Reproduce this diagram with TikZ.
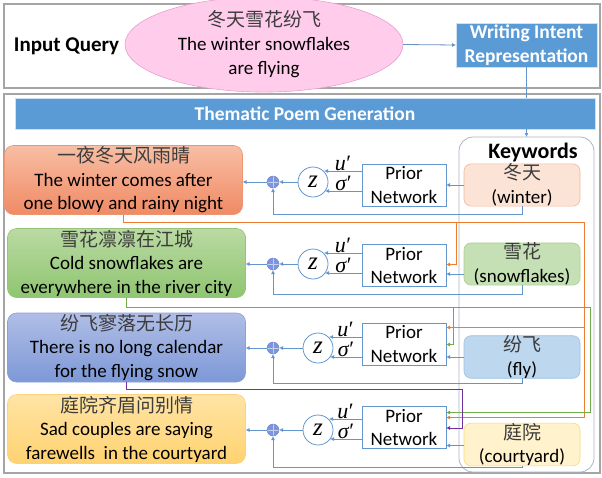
\documentclass[tikz,border=0pt]{standalone}
\usepackage{fontspec}
\setmainfont{Carlito}
\newfontfamily\cjk{Noto Sans CJK SC}
\newfontfamily\lsi{Liberation Serif}
\usetikzlibrary{arrows.meta,calc,shapes.geometric}
\definecolor{lineblue}{RGB}{98,150,205}
\definecolor{framegray}{RGB}{165,165,165}
\definecolor{barblue}{RGB}{91,155,213}
\definecolor{orangeL}{RGB}{237,125,49}
\definecolor{greenL}{RGB}{112,173,71}
\definecolor{purpleL}{RGB}{112,48,160}
\definecolor{adderblue}{RGB}{125,148,222}
\definecolor{pinkfill}{RGB}{255,204,236}
\definecolor{pinkedge}{RGB}{232,160,208}
\definecolor{kwgray}{RGB}{170,180,198}
\definecolor{cjkgray}{RGB}{60,60,60}
\newcommand{\uprime}{{\lsi\itshape u}\kern0.5pt{\lsi ′}}
\newcommand{\sprime}{{\lsi\itshape σ}\kern0.5pt{\lsi ′}}
\begin{document}
\begin{tikzpicture}[x=1pt,y=-1pt,
  every node/.style={inner sep=0pt, outer sep=0pt},
  base/.style={font=\fontsize{19}{23.5}\selectfont},
  frame/.style={draw=framegray, line width=1.1pt},
  poem/.style={base, rounded corners=9pt, minimum width=238pt, minimum height=69pt, align=center, line width=0.6pt},
  kw/.style={base, rounded corners=7pt, minimum width=116pt, minimum height=42pt, align=center, line width=0.6pt},
  prior/.style={base, draw=lineblue, line width=0.8pt, minimum width=84pt, minimum height=42pt, align=center, fill=white},
  zc/.style={circle, draw=lineblue, line width=0.8pt, minimum size=30pt, fill=white, font=\lsi\itshape\fontsize{25}{26}\selectfont},
  adder/.style={circle, fill=adderblue, draw=adderblue!85!black, line width=0.4pt, minimum size=12pt,
    path picture={\draw[white!55!adderblue, line width=0.5pt]
      (path picture bounding box.north) -- (path picture bounding box.south)
      (path picture bounding box.west) -- (path picture bounding box.east);}},
  bluebar/.style={fill=barblue, draw=white!70!barblue, line width=1pt, text=white, align=center,
    font=\bfseries\fontsize{19.5}{23.5}\selectfont},
  conn/.style={draw=lineblue, line width=0.8pt},
  arr/.style={conn, -{Latex[length=4pt,width=4pt]}},
  oarr/.style={draw=orangeL, line width=1pt, -{Latex[length=4pt,width=4pt]}},
  garr/.style={draw=greenL, line width=1pt, -{Latex[length=4pt,width=4pt]}},
  parr/.style={draw=purpleL, line width=1pt, -{Latex[length=4pt,width=4pt]}},
  ml/.style={font=\fontsize{22}{23}\selectfont, text height=11pt, text depth=0pt, above=1pt, midway}
]
\useasboundingbox (0,0) rectangle (602,477);
% frames
\draw[frame] (4,4) rectangle (600,88);
\draw[frame] (4,94) rectangle (600,473);

% top part
\node[font=\bfseries\fontsize{21}{25}\selectfont] (iq) at (66.5,46) {Input Query};
\node[ellipse, fill=pinkfill, draw=pinkedge, line width=0.6pt, minimum width=278pt, minimum height=71pt,
  align=center, font=\fontsize{19}{24}\selectfont] (query) at (264,44.5)
  {{\cjk\color{cjkgray}冬天雪花纷飞}\\The winter snowflakes\\are flying};
\node[bluebar, minimum width=141pt, minimum height=44pt] (wir) at (526.5,45) {Writing Intent\\Representation};
\node[bluebar, minimum width=580pt, minimum height=31pt] (bar) at (305,113.5) {Thematic Poem Generation};

% keywords container
\node[draw=kwgray, line width=0.8pt, rounded corners=14pt, minimum width=135pt, minimum height=335pt] (kwbox) at (526.5,304.5) {};
\node[font=\bfseries\fontsize{22}{26}\selectfont] (kwt) at (533,153) {Keywords};

% poems
\node[poem, top color={rgb,255:red,248;green,190;blue,164}, bottom color={rgb,255:red,240;green,138;blue,100}, draw={rgb,255:red,236;green,150;blue,115}]
  (p1) at (123.5,180) {{\cjk\color{cjkgray}一夜冬天风雨晴}\\The winter comes after\\one blowy and rainy night};
\node[poem, top color={rgb,255:red,186;green,218;blue,163}, bottom color={rgb,255:red,143;green,197;blue,112}, draw={rgb,255:red,150;green,195;blue,120}]
  (p2) at (126.5,263) {{\cjk\color{cjkgray}雪花凛凛在江城}\\Cold snowflakes are\\everywhere in the river city};
\node[poem, top color={rgb,255:red,176;green,190;blue,230}, bottom color={rgb,255:red,125;green,152;blue,215}, draw={rgb,255:red,140;green,160;blue,215}]
  (p3) at (126.5,347.5) {{\cjk\color{cjkgray}纷飞寥落无长历}\\There is no long calendar\\for the flying snow};
\node[poem, top color={rgb,255:red,255;green,228;blue,165}, bottom color={rgb,255:red,255;green,210;blue,112}, draw={rgb,255:red,250;green,210;blue,130}]
  (p4) at (126.5,429) {{\cjk\color{cjkgray}庭院齐眉问别情}\\Sad couples are saying\\farewells~~in the courtyard};

% keywords
\node[kw, fill={rgb,255:red,251;green,228;blue,214}, draw={rgb,255:red,244;green,185;blue,150}] (k1) at (522,185) {{\cjk\color{cjkgray}冬天}\\(winter)};
\node[kw, fill={rgb,255:red,197;green,224;blue,180}, draw={rgb,255:red,169;green,209;blue,142}] (k2) at (522,264) {{\cjk\color{cjkgray}雪花}\\(snowflakes)};
\node[kw, fill={rgb,255:red,189;green,215;blue,238}, draw={rgb,255:red,157;green,195;blue,230}] (k3) at (522,357) {{\cjk\color{cjkgray}纷飞}\\(fly)};
\node[kw, fill={rgb,255:red,255;green,242;blue,204}, draw={rgb,255:red,255;green,217;blue,102}] (k4) at (522,444.5) {{\cjk\color{cjkgray}庭院}\\(courtyard)};

% prior networks
\node[prior] (n1) at (404,185) {Prior\\Network};
\node[prior] (n2) at (404,265.5) {Prior\\Network};
\node[prior] (n3) at (404,344) {Prior\\Network};
\node[prior] (n4) at (404,427.5) {Prior\\Network};

% z circles
\node[zc] (z1) at (313,182) {z};
\node[zc] (z2) at (313,264) {z};
\node[zc] (z3) at (318,348) {z};
\node[zc] (z4) at (318,430) {z};

% adders
\node[adder] (a1) at (273,182) {};
\node[adder] (a2) at (273,264) {};
\node[adder] (a3) at (273,348) {};
\node[adder] (a4) at (273,430) {};

% top connectors
\draw[conn, draw=lineblue!80!gray, -{Latex[length=4pt,width=4pt]}] (query.east) -- (wir.west);
\draw[conn] (wir.south) -- (wir.south |- bar.north);
\draw[arr] (bar.south -| wir.south) -- (wir.south |- kwbox.north);

% row connectors
\foreach \i/\dk/\dd in {1/0/8, 2/10/9, 3/0/5, 4/1/2} {
  \draw[arr] ($(k\i.west)+(0,\dk)$) coordinate (t\i) -- (t\i -| n\i.east);
  \draw[arr] ($(n\i.west |- z\i)+(0,-11)$) -- ($(z\i.center)+(11,-11)$) node[ml] {\uprime};
  \draw[arr] ($(n\i.west |- z\i)+(0,9)$) -- ($(z\i.center)+(12,9)$) node[ml] {\sprime};
  \draw[arr] (z\i.west) -- (a\i.east);
  \draw[arr] (a\i.west) -- (a\i.west -| p\i.east);
  \draw[arr] (k\i.south) -- ++(0,\dd) -| (a\i.south);
}

% orange (from poem 1)
\draw[oarr] (p1.south) -- ++(0,8) coordinate (o1) -- (o1 -| 584,0) coordinate (o2) -- ($(o2)+(0,195)$) coordinate (o3) -- (o3 -| n4.east);
\draw[oarr] (o1 -| 456,0) -- ($(o1 -| 456,0)+(0,42)$) coordinate (o4) -- (o4 -| n2.east);
\draw[oarr] ($(o2)+(0,105)$) coordinate (o5) -- (o5 -| n3.east);
% green (from poem 2)
\draw[garr] (p2.south) -- ++(0,10) coordinate (g1) -- (g1 -| 590,0) coordinate (g2) -- ($(g2)+(0,105)$) coordinate (g3) -- (g3 -| n4.east);
\draw[garr] (g1 -| 453,0) -- ($(g1 -| 453,0)+(0,37)$) coordinate (g4) -- (g4 -| n3.east);
% purple (from poem 3)
\draw[parr] (p3.south) -- ++(0,7) coordinate (q1) -- (q1 -| 462,0) coordinate (q2) -- ($(q2)+(0,39)$) coordinate (q3) -- (q3 -| n4.east);
\end{tikzpicture}
\end{document}
